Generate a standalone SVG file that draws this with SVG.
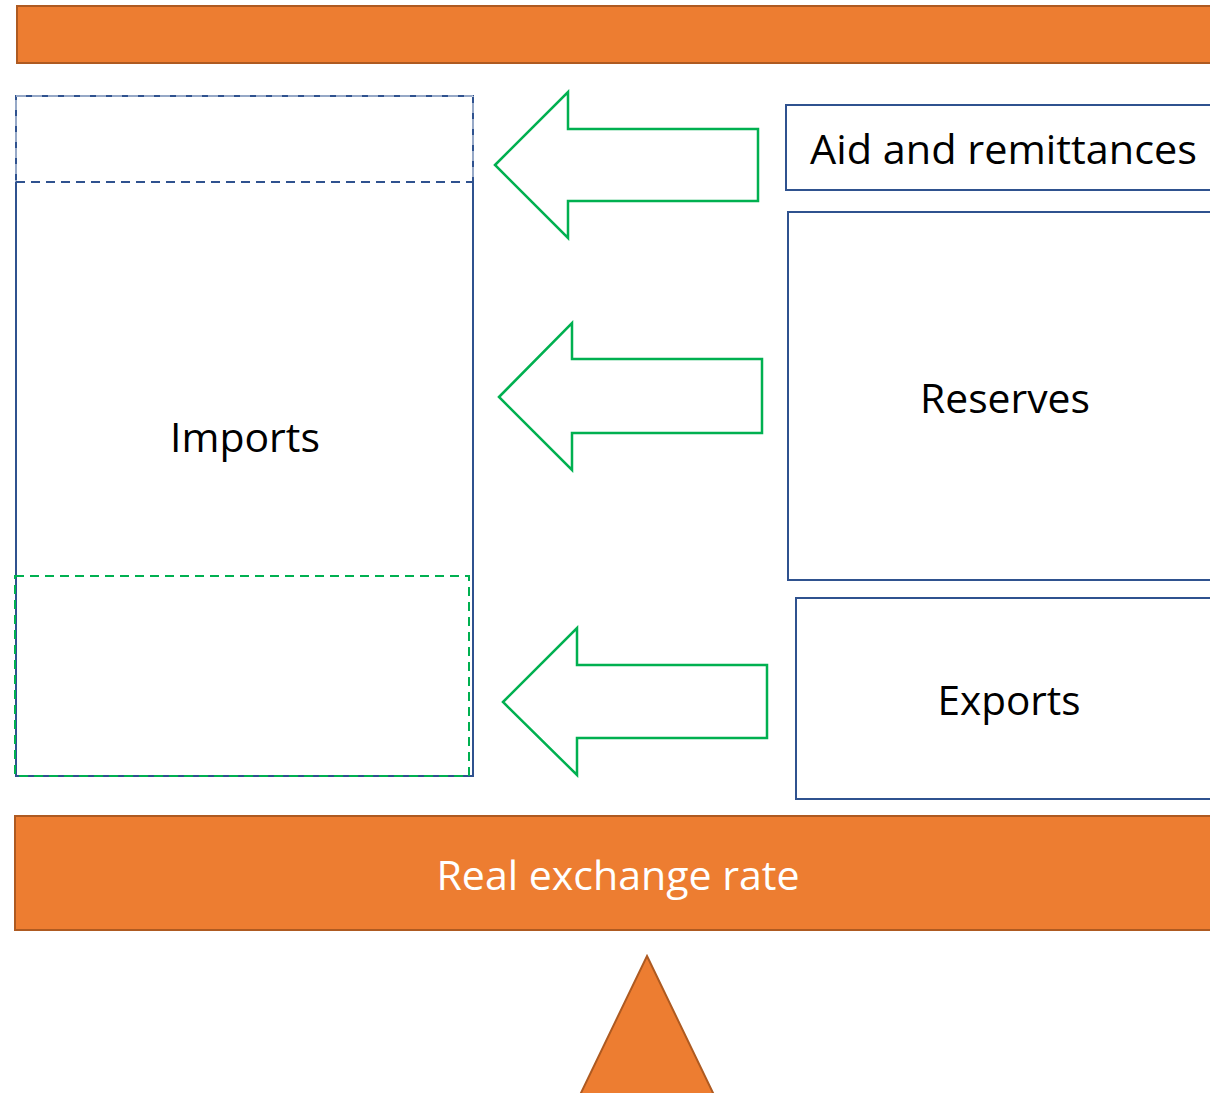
<svg xmlns="http://www.w3.org/2000/svg" width="1210" height="1093" viewBox="0 0 1210 1093">
<style>
.bar{fill:#ED7D31;stroke:#AE5A21;stroke-width:2}
.box{fill:#fff;stroke:#2F528F;stroke-width:2}
.arrow{fill:#fff;stroke:#00B050;stroke-width:2.5}
.lbl{font-family:"Open Sans","Liberation Sans",sans-serif;font-size:41px;fill:#000}
.wl{font-family:"Open Sans","Liberation Sans",sans-serif;font-size:41px;fill:#fff}
</style>
<rect width="1210" height="1093" fill="#fff"/>
<g id="top-bar"><rect class="bar" x="17" y="6" width="1200" height="57"/></g>
<g id="imports">
<rect class="box" x="16" y="96" width="457" height="680"/>
<rect x="16" y="96" width="457" height="86" fill="none" stroke="#fff" stroke-width="1" stroke-dasharray="10 6"/>
<line x1="16" y1="182" x2="473" y2="182" stroke="#2F528F" stroke-width="2" stroke-dasharray="9 6"/>
<rect x="15" y="576" width="454" height="200" fill="none" stroke="#00B050" stroke-width="2" stroke-dasharray="9 6"/>
<text class="lbl" x="245" y="452" text-anchor="middle" textLength="150" lengthAdjust="spacingAndGlyphs">Imports</text>
</g>
<g id="connectors">
<polygon class="arrow" points="495,165 568,92 568,129 758,129 758,201 568,201 568,238"/>
<polygon class="arrow" points="499,397 572,323 572,359 762,359 762,433 572,433 572,470"/>
<polygon class="arrow" points="503,702 577,628 577,665 767,665 767,738 577,738 577,775"/>
</g>
<g id="aid"><rect class="box" x="786" y="105" width="430" height="85"/>
<text class="lbl" x="810" y="164" textLength="387" lengthAdjust="spacingAndGlyphs">Aid and remittances</text></g>
<g id="reserves"><rect class="box" x="788" y="212" width="430" height="368"/>
<text class="lbl" x="1005" y="413" text-anchor="middle" textLength="170" lengthAdjust="spacingAndGlyphs">Reserves</text></g>
<g id="exports"><rect class="box" x="796" y="598" width="422" height="201"/>
<text class="lbl" x="1009" y="715" text-anchor="middle" textLength="143" lengthAdjust="spacingAndGlyphs">Exports</text></g>
<g id="rer"><rect class="bar" x="15" y="816" width="1202" height="114"/>
<text class="wl" x="618" y="890" text-anchor="middle" textLength="363" lengthAdjust="spacingAndGlyphs">Real exchange rate</text></g>
<g id="fulcrum"><polygon class="bar" points="647,956 714,1095 580,1095"/></g>
</svg>
